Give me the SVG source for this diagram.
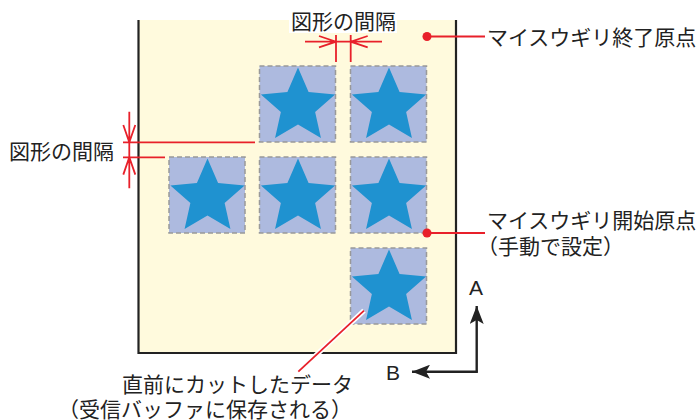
<svg xmlns="http://www.w3.org/2000/svg" xmlns:xlink="http://www.w3.org/1999/xlink" width="700" height="420" viewBox="0 0 700 420">
<style>
.txt{font-family:"Noto Sans CJK JP","Noto Sans",sans-serif;font-size:21px;fill:#222}
.lat{font-family:"Liberation Sans",Arial,sans-serif;font-size:21px;fill:#222}
.tile{fill:#adbadf;stroke:#999;stroke-width:1.5;stroke-dasharray:5,3}
.star{fill:#1f92d0}
.red{stroke:#e8202a;stroke-width:1.8;fill:none}
.blk{stroke:#222;stroke-width:2.2;fill:none}
</style>
<defs>
<path id="star" class="star" d="M0,-39 L10.58,-14.56 L37.09,-12.05 L17.12,5.56 L22.92,31.55 L0,18 L-22.92,31.55 L-17.12,5.56 L-37.09,-12.05 L-10.58,-14.56 Z"/>
<marker id="ah" viewBox="0 0 18 14" refX="18" refY="7" markerWidth="18" markerHeight="14" markerUnits="userSpaceOnUse" orient="auto">
<path d="M0,0 L18,7 L0,14 L4,7 Z" fill="#222"/>
</marker>
</defs>
<rect width="700" height="420" fill="#fff"/>
<g id="paper">
<rect x="138.5" y="20" width="317.5" height="333" fill="#fffadd"/>
<path class="blk" d="M138.5,20 V353 H456 V20"/>
</g>
<g id="tiles">
<g id="tile-r1c2"><rect class="tile" x="259.5" y="66" width="76" height="76"/><use xlink:href="#star" x="298" y="106.5"/></g>
<g id="tile-r1c3"><rect class="tile" x="350.5" y="66" width="76" height="76"/><use xlink:href="#star" x="389" y="106.5"/></g>
<g id="tile-r2c1"><rect class="tile" x="169" y="157" width="76" height="76"/><use xlink:href="#star" x="207.5" y="197.5"/></g>
<g id="tile-r2c2"><rect class="tile" x="259.5" y="157" width="76" height="76"/><use xlink:href="#star" x="298" y="197.5"/></g>
<g id="tile-r2c3"><rect class="tile" x="350.5" y="157" width="76" height="76"/><use xlink:href="#star" x="389" y="197.5"/></g>
<g id="tile-r3c3"><rect class="tile" x="350.5" y="248" width="76" height="76"/><use xlink:href="#star" x="389" y="288.5"/></g>
</g>
<g id="connectors">
<g id="gap-top">
<rect x="289" y="17" width="108" height="16" fill="#fff"/>
<path class="red" d="M336,35 V62 M350.7,35 V62 M305,41.7 H382 M319,36 L336,41.7 L319,47.4 M367.7,36 L350.7,41.7 L367.7,47.4"/>
</g>
<g id="gap-left">
<path class="red" d="M123,142.3 H255 M123,157.3 H165 M129.3,111.7 V188.3 M123.3,125 L129.3,142.3 L135.3,125 M123.3,174.6 L129.3,157.3 L135.3,174.6"/>
</g>
<g id="end-origin">
<path class="red" d="M427,36.5 H485"/>
<circle cx="427" cy="36.5" r="4.5" fill="#e8202a"/>
</g>
<g id="start-origin">
<path class="red" d="M427,233 H485"/>
<circle cx="427" cy="233" r="4.5" fill="#e8202a"/>
</g>
<g id="last-data">
<path d="M364,310.7 L298.3,371.7" stroke="#fff" stroke-width="5" fill="none"/>
<path class="red" d="M364,310.7 L298.3,371.7"/>
</g>
<g id="axes">
<path d="M476.7,371.7 V306" stroke="#222" stroke-width="2.4" fill="none" marker-end="url(#ah)"/>
<path d="M477.9,371.7 H412" stroke="#222" stroke-width="2.4" fill="none" marker-end="url(#ah)"/>
</g>
</g>
<g id="labels">
<text class="txt" x="291" y="29">図形の間隔</text>
<text class="txt" x="9" y="159">図形の間隔</text>
<text class="txt" x="487" y="45">マイスウギリ終了原点</text>
<text class="txt" x="487" y="228">マイスウギリ開始原点</text>
<text class="txt" x="477" y="254">（手動で設定）</text>
<text class="txt" x="122" y="392">直前にカットしたデータ</text>
<text class="txt" x="58" y="417">（受信バッファに保存される）</text>
<text class="lat" x="476" y="295" text-anchor="middle">A</text>
<text class="lat" x="393" y="380" text-anchor="middle">B</text>
</g>
</svg>
